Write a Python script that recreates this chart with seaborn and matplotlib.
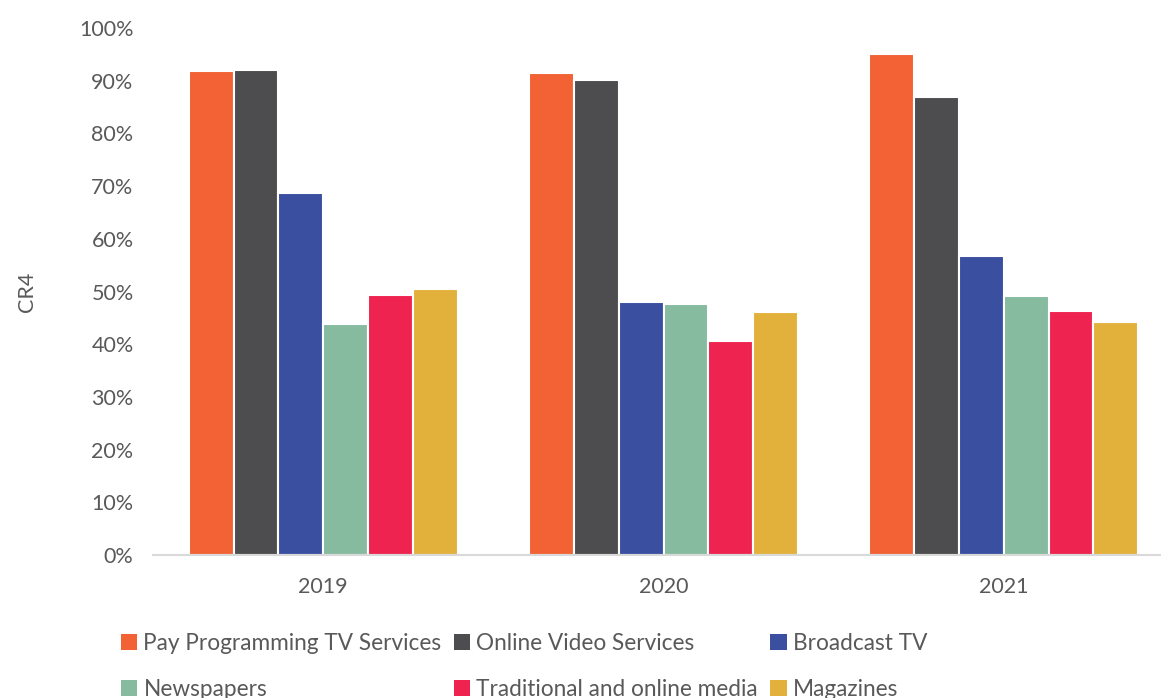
import matplotlib
matplotlib.use("Agg")
import matplotlib.pyplot as plt
from matplotlib.patches import Patch
from matplotlib.ticker import PercentFormatter
import seaborn as sns
import pandas as pd

years = ["2019", "2020", "2021"]
sectors = [
    "Pay Programming TV Services",
    "Online Video Services",
    "Broadcast TV",
    "Newspapers",
    "Traditional and online media",
    "Magazines",
]
pay_tv = [0.918, 0.914, 0.950]
online_video = [0.920, 0.901, 0.870]
broadcast_tv = [0.687, 0.480, 0.567]
newspapers = [0.438, 0.476, 0.492]
traditional_online = [0.493, 0.406, 0.463]
magazines = [0.505, 0.461, 0.442]

colors = ["#F26235", "#4D4D4F", "#3A4FA0", "#86BBA0", "#EE2350", "#E2B13C"]

series = [pay_tv, online_video, broadcast_tv, newspapers, traditional_online, magazines]
rows = []
for name, vals in zip(sectors, series):
    for y, v in zip(years, vals):
        rows.append({"Year": y, "Sector": name, "CR4": v})
df = pd.DataFrame(rows)

sns.set_theme(style="white")
plt.rcParams["font.family"] = ["Lato", "DejaVu Sans"]
text_color = "#595959"

fig = plt.figure(figsize=(11.61, 6.98), dpi=100)
ax = fig.add_axes([153 / 1161, 1 - 555 / 698, (1174 - 153) / 1161, (555 - 28) / 698])

sns.barplot(
    data=df, x="Year", y="CR4", hue="Sector", order=years, hue_order=sectors,
    palette=colors, width=0.79, edgecolor="white", linewidth=1.5,
    saturation=1, ax=ax, legend=False,
)

ax.set_ylim(0, 1.0)
ax.set_yticks([i / 10 for i in range(11)])
ax.yaxis.set_major_formatter(PercentFormatter(1.0, decimals=0))
ax.set_xlabel("")
ax.set_ylabel("CR4", color=text_color, fontsize=15.5, labelpad=30)
ax.tick_params(axis="both", colors=text_color, labelsize=15.5, length=0)
ax.tick_params(axis="x", pad=16)
ax.tick_params(axis="y", pad=14)
for side in ["top", "right", "left"]:
    ax.spines[side].set_visible(False)
ax.spines["bottom"].set_color("#D9D9D9")
ax.spines["bottom"].set_linewidth(1.5)
ax.grid(False)

# legend filled column-wise: reorder so rows read left to right
order = [0, 3, 1, 4, 2, 5]
handles = [Patch(facecolor=colors[i], edgecolor="none") for i in order]
labels = [sectors[i] for i in order]
fig.legend(
    handles, labels, ncol=3, loc="upper left",
    bbox_to_anchor=(121 / 1161, 1 - 633 / 698), frameon=False,
    fontsize=16.3, labelcolor=text_color, handlelength=0.72, handleheight=0.72,
    handletextpad=0.27, columnspacing=0.55, labelspacing=1.1, borderpad=0,
    borderaxespad=0,
)

fig.savefig("out.png", dpi=100, facecolor="white")
